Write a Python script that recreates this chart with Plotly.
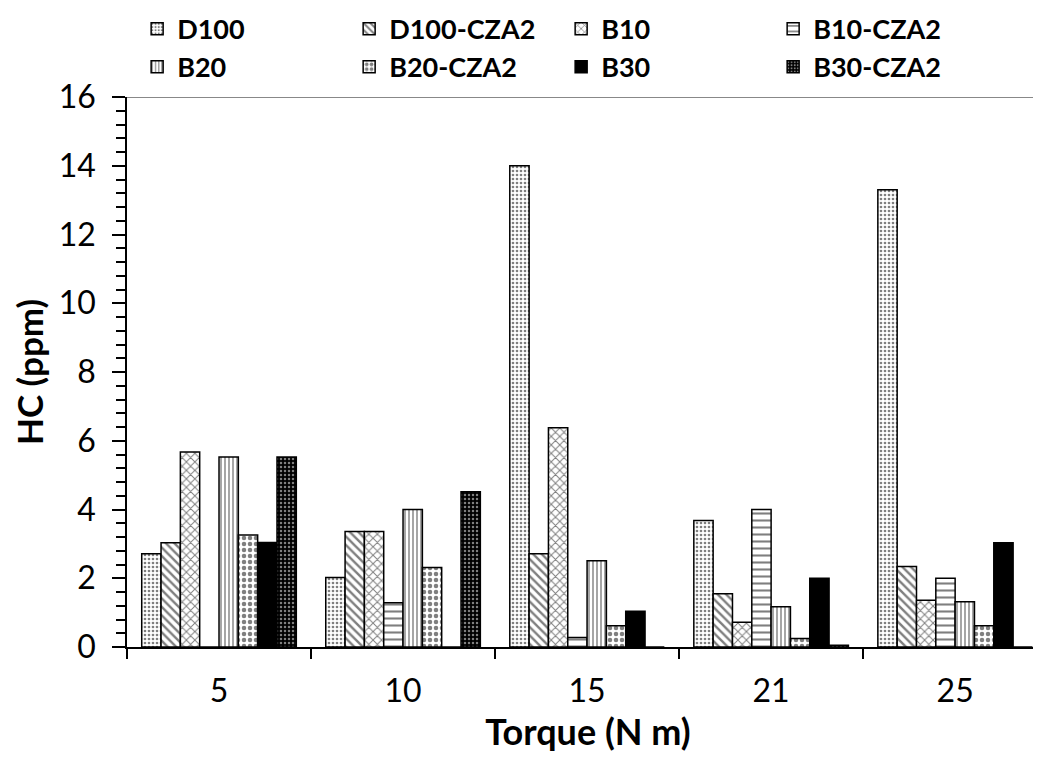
import plotly.graph_objects as go

torque = ["5", "10", "15", "21", "25"]
series_names = ["D100", "D100-CZA2", "B10", "B10-CZA2", "B20", "B20-CZA2", "B30", "B30-CZA2"]

d100 = [2.71, 2.02, 14.0, 3.68, 13.3]
d100_cza2 = [3.03, 3.36, 2.71, 1.55, 2.34]
b10 = [5.67, 3.36, 6.38, 0.72, 1.36]
b10_cza2 = [0.0, 1.29, 0.28, 4.0, 2.0]
b20 = [5.53, 4.0, 2.51, 1.17, 1.32]
b20_cza2 = [3.26, 2.31, 0.62, 0.25, 0.62]
b30 = [3.04, 0.0, 1.04, 2.0, 3.03]
b30_cza2 = [5.53, 4.52, 0.0, 0.05, 0.0]

values = [d100, d100_cza2, b10, b10_cza2, b20, b20_cza2, b30, b30_cza2]

patterns = [
    dict(shape=".", fgcolor="black", bgcolor="white", size=4, solidity=0.35),
    dict(shape="\\", fgcolor="black", bgcolor="white", size=6, solidity=0.4),
    dict(shape="x", fgcolor="black", bgcolor="white", size=6, solidity=0.3),
    dict(shape="-", fgcolor="black", bgcolor="white", size=7, solidity=0.3),
    dict(shape="|", fgcolor="black", bgcolor="white", size=4, solidity=0.35),
    dict(shape=".", fgcolor="black", bgcolor="white", size=6, solidity=0.45),
    dict(shape="", fgcolor="black", bgcolor="black"),
    dict(shape=".", fgcolor="white", bgcolor="black", size=4, solidity=0.3),
]

FONT = "Lato"

fig = go.Figure()
for name, vals, pat in zip(series_names, values, patterns):
    fig.add_trace(go.Bar(
        x=torque, y=vals, name=name,
        marker=dict(color="white" if name != "B30" else "black",
                    pattern=pat,
                    line=dict(color="black", width=1.5)),
    ))

fig.update_layout(
    width=1041, height=765,
    barmode="group", bargap=0.16, bargroupgap=0,
    plot_bgcolor="white", paper_bgcolor="white",
    margin=dict(l=119, r=0, t=89, b=126, autoexpand=False),
    font=dict(family=FONT, color="black"),
    legend=dict(orientation="h", x=0.011, xanchor="left", y=1.168, yref="paper", yanchor="top",
                font=dict(family=FONT, size=27, color="black", weight="bold"),
                entrywidth=167, entrywidthmode="pixels", traceorder="normal",
                bgcolor="rgba(0,0,0,0)"),
    showlegend=True,
)

fig.update_xaxes(
    type="category", range=[-0.5, 4.51], automargin=False,
    tickson="boundaries", ticks="outside", ticklen=10, tickwidth=1.5, tickcolor="black",
    ticklabelstandoff=15,
    showline=True, linecolor="black", linewidth=1.5, showgrid=False,
    tickfont=dict(family=FONT, size=32, color="black"),
    title=dict(text="Torque (N m)", font=dict(family=FONT, size=36, color="black", weight="bold"),
               standoff=5),
)
fig.update_yaxes(
    range=[0, 16], dtick=2, ticks="outside", ticklen=13, tickwidth=1.5, tickcolor="black",
    automargin=False, ticklabelstandoff=10,
    minor=dict(dtick=0.4, ticks="outside", ticklen=9, tickwidth=1.5, tickcolor="black"),
    showline=True, linecolor="black", linewidth=1.5, showgrid=False, zeroline=False,
    tickfont=dict(family=FONT, size=32, color="black"),
    title=dict(text="HC (ppm)", font=dict(family=FONT, size=35, color="black", weight="bold"),
               standoff=22),
)

fig.add_shape(type="line", xref="paper", yref="y", x0=0, x1=1, y0=16, y1=16,
              line=dict(color="#888888", width=2))

fig.write_html("out.html")
